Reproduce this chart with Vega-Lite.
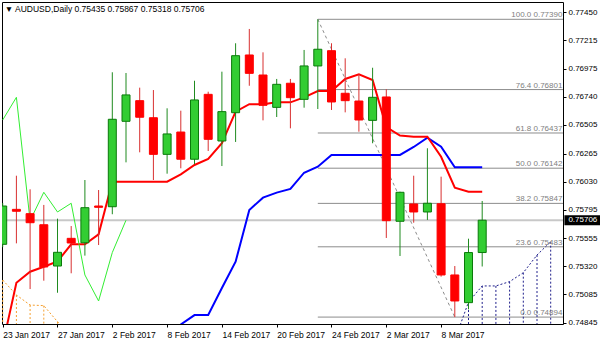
{
  "$schema": "https://vega.github.io/schema/vega-lite/v6.json",
  "width": 561,
  "height": 322,
  "autosize": {"type": "none"},
  "padding": {"left": 2, "top": 2, "right": 37, "bottom": 19},
  "background": "white",
  "config": {
    "view": {"stroke": "black", "strokeWidth": 1},
    "font": "Liberation Sans",
    "axisX": {"grid": false, "domain": false, "tickSize": 3, "tickColor": "black", "labelAlign": "left", "labelAngle": 0, "labelPadding": 3, "labelFontSize": 8.5, "labelFont": "Liberation Sans", "labelColor": "black", "labelOverlap": false, "labelFlush": false, "labelBound": false},
    "axisY": {"grid": false, "domain": false, "tickSize": 3, "tickColor": "black", "labelPadding": 2, "labelFontSize": 8, "labelFont": "Liberation Sans", "labelColor": "black", "labelOverlap": false, "labelFlush": false, "labelBound": false}
  },
  "datasets": {
    "candles": [
      {"d": "23 Jan 2017", "o": 0.75504, "h": 0.7585, "l": 0.7548, "c": 0.75825},
      {"d": "24 Jan 2017", "o": 0.75797, "h": 0.76079, "l": 0.75512, "c": 0.75781},
      {"d": "25 Jan 2017", "o": 0.75761, "h": 0.75965, "l": 0.75129, "c": 0.75685},
      {"d": "26 Jan 2017", "o": 0.75668, "h": 0.75834, "l": 0.75199, "c": 0.75314},
      {"d": "27 Jan 2017", "o": 0.75322, "h": 0.75719, "l": 0.75098, "c": 0.75437},
      {"d": "30 Jan 2017", "o": 0.75554, "h": 0.75657, "l": 0.75261, "c": 0.75515},
      {"d": "31 Jan 2017", "o": 0.75517, "h": 0.76043, "l": 0.75409, "c": 0.75811},
      {"d": "1 Feb 2017", "o": 0.75825, "h": 0.75959, "l": 0.75498, "c": 0.75814},
      {"d": "2 Feb 2017", "o": 0.75819, "h": 0.76946, "l": 0.75756, "c": 0.76552},
      {"d": "3 Feb 2017", "o": 0.76535, "h": 0.7694, "l": 0.76191, "c": 0.76756},
      {"d": "6 Feb 2017", "o": 0.76708, "h": 0.76817, "l": 0.76275, "c": 0.76569},
      {"d": "7 Feb 2017", "o": 0.76565, "h": 0.76797, "l": 0.76043, "c": 0.76258},
      {"d": "8 Feb 2017", "o": 0.76258, "h": 0.76644, "l": 0.76096, "c": 0.76429},
      {"d": "9 Feb 2017", "o": 0.76445, "h": 0.76624, "l": 0.76141, "c": 0.76217},
      {"d": "10 Feb 2017", "o": 0.76217, "h": 0.76875, "l": 0.76175, "c": 0.76714},
      {"d": "13 Feb 2017", "o": 0.76761, "h": 0.76783, "l": 0.76286, "c": 0.76384},
      {"d": "14 Feb 2017", "o": 0.7637, "h": 0.76951, "l": 0.7616, "c": 0.76616},
      {"d": "15 Feb 2017", "o": 0.76607, "h": 0.77189, "l": 0.76362, "c": 0.77085},
      {"d": "16 Feb 2017", "o": 0.77091, "h": 0.77309, "l": 0.76833, "c": 0.76937},
      {"d": "17 Feb 2017", "o": 0.76923, "h": 0.77113, "l": 0.76543, "c": 0.76669},
      {"d": "20 Feb 2017", "o": 0.76652, "h": 0.7689, "l": 0.76571, "c": 0.76845},
      {"d": "21 Feb 2017", "o": 0.76854, "h": 0.7689, "l": 0.76476, "c": 0.76733},
      {"d": "22 Feb 2017", "o": 0.76719, "h": 0.77133, "l": 0.76649, "c": 0.76999},
      {"d": "23 Feb 2017", "o": 0.76999, "h": 0.7739, "l": 0.76638, "c": 0.77139},
      {"d": "24 Feb 2017", "o": 0.77127, "h": 0.77189, "l": 0.7663, "c": 0.76697},
      {"d": "27 Feb 2017", "o": 0.7677, "h": 0.77063, "l": 0.7661, "c": 0.76708},
      {"d": "28 Feb 2017", "o": 0.76705, "h": 0.76929, "l": 0.76448, "c": 0.76546},
      {"d": "1 Mar 2017", "o": 0.76543, "h": 0.76984, "l": 0.76351, "c": 0.76736},
      {"d": "2 Mar 2017", "o": 0.76739, "h": 0.76803, "l": 0.75557, "c": 0.75702},
      {"d": "3 Mar 2017", "o": 0.75697, "h": 0.75945, "l": 0.75406, "c": 0.7594},
      {"d": "6 Mar 2017", "o": 0.75842, "h": 0.76079, "l": 0.75685, "c": 0.75775},
      {"d": "7 Mar 2017", "o": 0.75775, "h": 0.76309, "l": 0.75708, "c": 0.75848},
      {"d": "8 Mar 2017", "o": 0.75844, "h": 0.76071, "l": 0.75233, "c": 0.75247},
      {"d": "9 Mar 2017", "o": 0.75247, "h": 0.75322, "l": 0.74894, "c": 0.75029},
      {"d": "10 Mar 2017", "o": 0.75015, "h": 0.75551, "l": 0.74959, "c": 0.75435},
      {"d": "13 Mar 2017", "o": 0.75435, "h": 0.75867, "l": 0.75318, "c": 0.75706}
    ],
    "tenkan": [
      {"d": "23 Jan 2017", "v": 0.74661}, {"d": "24 Jan 2017", "v": 0.75182}, {"d": "25 Jan 2017", "v": 0.75274},
      {"d": "26 Jan 2017", "v": 0.75316}, {"d": "27 Jan 2017", "v": 0.7536}, {"d": "30 Jan 2017", "v": 0.75504},
      {"d": "31 Jan 2017", "v": 0.75504}, {"d": "1 Feb 2017", "v": 0.75588}, {"d": "2 Feb 2017", "v": 0.76029},
      {"d": "3 Feb 2017", "v": 0.76029}, {"d": "6 Feb 2017", "v": 0.76029}, {"d": "7 Feb 2017", "v": 0.76029},
      {"d": "8 Feb 2017", "v": 0.76029}, {"d": "9 Feb 2017", "v": 0.76091}, {"d": "10 Feb 2017", "v": 0.76169},
      {"d": "13 Feb 2017", "v": 0.76219}, {"d": "14 Feb 2017", "v": 0.76351}, {"d": "15 Feb 2017", "v": 0.76616},
      {"d": "16 Feb 2017", "v": 0.76678}, {"d": "17 Feb 2017", "v": 0.76678}, {"d": "20 Feb 2017", "v": 0.76694},
      {"d": "21 Feb 2017", "v": 0.76694}, {"d": "22 Feb 2017", "v": 0.76735}, {"d": "23 Feb 2017", "v": 0.76789},
      {"d": "24 Feb 2017", "v": 0.76789}, {"d": "27 Feb 2017", "v": 0.7689}, {"d": "28 Feb 2017", "v": 0.76929},
      {"d": "1 Mar 2017", "v": 0.76881}, {"d": "2 Mar 2017", "v": 0.76487}, {"d": "3 Mar 2017", "v": 0.76415},
      {"d": "6 Mar 2017", "v": 0.76406}, {"d": "7 Mar 2017", "v": 0.76406}, {"d": "8 Mar 2017", "v": 0.76238},
      {"d": "9 Mar 2017", "v": 0.75978}, {"d": "10 Mar 2017", "v": 0.75945}, {"d": "13 Mar 2017", "v": 0.75945}
    ],
    "kijun": [
      {"d": "8 Feb 2017", "v": 0.747}, {"d": "9 Feb 2017", "v": 0.74832}, {"d": "10 Feb 2017", "v": 0.74911},
      {"d": "13 Feb 2017", "v": 0.74911}, {"d": "14 Feb 2017", "v": 0.75138}, {"d": "15 Feb 2017", "v": 0.75358},
      {"d": "16 Feb 2017", "v": 0.75792}, {"d": "17 Feb 2017", "v": 0.75895}, {"d": "20 Feb 2017", "v": 0.75937},
      {"d": "21 Feb 2017", "v": 0.75968}, {"d": "22 Feb 2017", "v": 0.76104}, {"d": "23 Feb 2017", "v": 0.76155},
      {"d": "24 Feb 2017", "v": 0.76253}, {"d": "27 Feb 2017", "v": 0.76253}, {"d": "28 Feb 2017", "v": 0.76253},
      {"d": "1 Mar 2017", "v": 0.76253}, {"d": "2 Mar 2017", "v": 0.76253}, {"d": "3 Mar 2017", "v": 0.76253},
      {"d": "6 Mar 2017", "v": 0.7632}, {"d": "7 Mar 2017", "v": 0.76398}, {"d": "8 Mar 2017", "v": 0.76322},
      {"d": "9 Mar 2017", "v": 0.7615}, {"d": "10 Mar 2017", "v": 0.7615}, {"d": "13 Mar 2017", "v": 0.7615}
    ],
    "chikou": [
      {"d": "23 Jan 2017", "v": 0.76546}, {"d": "24 Jan 2017", "v": 0.76736}, {"d": "25 Jan 2017", "v": 0.75702},
      {"d": "26 Jan 2017", "v": 0.7594}, {"d": "27 Jan 2017", "v": 0.75775}, {"d": "30 Jan 2017", "v": 0.75848},
      {"d": "31 Jan 2017", "v": 0.75247}, {"d": "1 Feb 2017", "v": 0.75029}, {"d": "2 Feb 2017", "v": 0.75435},
      {"d": "3 Feb 2017", "v": 0.75706}
    ],
    "spanOrange": [
      {"d": "23 Jan 2017", "v": 0.75205}, {"d": "24 Jan 2017", "v": 0.75079}, {"d": "25 Jan 2017", "v": 0.74995},
      {"d": "26 Jan 2017", "v": 0.7499}, {"d": "27 Jan 2017", "v": 0.74855}, {"d": "30 Jan 2017", "v": 0.7475}
    ],
    "spanNavy": [
      {"d": "9 Mar 2017", "v": 0.74702}, {"d": "10 Mar 2017", "v": 0.7502}, {"d": "13 Mar 2017", "v": 0.75155},
      {"d": "14 Mar 2017", "v": 0.75155}, {"d": "15 Mar 2017", "v": 0.75191}, {"d": "16 Mar 2017", "v": 0.75266},
      {"d": "17 Mar 2017", "v": 0.75414}, {"d": "20 Mar 2017", "v": 0.75526}
    ],
    "fib": [
      {"d": "23 Feb 2017", "d2": "21 Mar 2017", "v": 0.7739, "t": "100.0 0.77390"},
      {"d": "23 Feb 2017", "d2": "21 Mar 2017", "v": 0.76801, "t": "76.4 0.76801"},
      {"d": "23 Feb 2017", "d2": "21 Mar 2017", "v": 0.76437, "t": "61.8 0.76437"},
      {"d": "23 Feb 2017", "d2": "21 Mar 2017", "v": 0.76142, "t": "50.0 0.76142"},
      {"d": "23 Feb 2017", "d2": "21 Mar 2017", "v": 0.75847, "t": "38.2 0.75847"},
      {"d": "23 Feb 2017", "d2": "21 Mar 2017", "v": 0.75483, "t": "23.6 0.75483"},
      {"d": "23 Feb 2017", "d2": "21 Mar 2017", "v": 0.74894, "t": "0.0 0.74894"}
    ],
    "fibTrend": [
      {"d": "23 Feb 2017", "v": 0.7739}, {"d": "9 Mar 2017", "v": 0.74894}
    ],
    "price": [{"d": "21 Mar 2017", "v": 0.75706, "t": "0.75706"}],
    "head": [{"d": "23 Jan 2017", "v": 0.77535, "t": "▼ AUDUSD,Daily  0.75435 0.75867 0.75318 0.75706"}]
  },
  "layer": [
    {
      "data": {"name": "price"},
      "mark": {"type": "rule", "color": "#c8c8c8", "strokeWidth": 2},
      "encoding": {
        "y": {"field": "v", "type": "quantitative", "scale": {"domain": [0.74836, 0.77535], "nice": false, "zero": false}, "axis": {"orient": "right", "values": [0.7745, 0.77215, 0.76975, 0.7674, 0.76505, 0.76265, 0.7603, 0.75795, 0.75555, 0.7532, 0.75085, 0.74845], "format": ".5f", "title": null}}
      }
    },
    {
      "data": {"name": "fib"},
      "mark": {"type": "rule", "color": "#8c8c8c", "strokeWidth": 1, "clip": true},
      "encoding": {
        "x": {"field": "d", "type": "ordinal", "sort": null, "scale": {"type": "point", "padding": 0, "range": [0.7, 562.4], "domain": ["23 Jan 2017","24 Jan 2017","25 Jan 2017","26 Jan 2017","27 Jan 2017","30 Jan 2017","31 Jan 2017","1 Feb 2017","2 Feb 2017","3 Feb 2017","6 Feb 2017","7 Feb 2017","8 Feb 2017","9 Feb 2017","10 Feb 2017","13 Feb 2017","14 Feb 2017","15 Feb 2017","16 Feb 2017","17 Feb 2017","20 Feb 2017","21 Feb 2017","22 Feb 2017","23 Feb 2017","24 Feb 2017","27 Feb 2017","28 Feb 2017","1 Mar 2017","2 Mar 2017","3 Mar 2017","6 Mar 2017","7 Mar 2017","8 Mar 2017","9 Mar 2017","10 Mar 2017","13 Mar 2017","14 Mar 2017","15 Mar 2017","16 Mar 2017","17 Mar 2017","20 Mar 2017","21 Mar 2017"]}, "axis": {"orient": "bottom", "values": ["23 Jan 2017","27 Jan 2017","2 Feb 2017","8 Feb 2017","14 Feb 2017","20 Feb 2017","24 Feb 2017","2 Mar 2017","8 Mar 2017"], "title": null}},
        "x2": {"field": "d2"},
        "y": {"field": "v", "type": "quantitative", "scale": {"domain": [0.74836, 0.77535], "nice": false, "zero": false}, "axis": {"orient": "right", "values": [0.7745, 0.77215, 0.76975, 0.7674, 0.76505, 0.76265, 0.7603, 0.75795, 0.75555, 0.7532, 0.75085, 0.74845], "format": ".5f", "title": null}}
      }
    },
    {
      "data": {"name": "fibTrend"},
      "mark": {"type": "line", "color": "#8c8c8c", "strokeWidth": 1, "strokeDash": [3, 3], "clip": true},
      "encoding": {
        "x": {"field": "d", "type": "ordinal", "sort": null, "scale": {"type": "point", "padding": 0, "range": [0.7, 562.4], "domain": ["23 Jan 2017","24 Jan 2017","25 Jan 2017","26 Jan 2017","27 Jan 2017","30 Jan 2017","31 Jan 2017","1 Feb 2017","2 Feb 2017","3 Feb 2017","6 Feb 2017","7 Feb 2017","8 Feb 2017","9 Feb 2017","10 Feb 2017","13 Feb 2017","14 Feb 2017","15 Feb 2017","16 Feb 2017","17 Feb 2017","20 Feb 2017","21 Feb 2017","22 Feb 2017","23 Feb 2017","24 Feb 2017","27 Feb 2017","28 Feb 2017","1 Mar 2017","2 Mar 2017","3 Mar 2017","6 Mar 2017","7 Mar 2017","8 Mar 2017","9 Mar 2017","10 Mar 2017","13 Mar 2017","14 Mar 2017","15 Mar 2017","16 Mar 2017","17 Mar 2017","20 Mar 2017","21 Mar 2017"]}, "axis": {"orient": "bottom", "values": ["23 Jan 2017","27 Jan 2017","2 Feb 2017","8 Feb 2017","14 Feb 2017","20 Feb 2017","24 Feb 2017","2 Mar 2017","8 Mar 2017"], "title": null}},
        "y": {"field": "v", "type": "quantitative", "scale": {"domain": [0.74836, 0.77535], "nice": false, "zero": false}, "axis": {"orient": "right", "values": [0.7745, 0.77215, 0.76975, 0.7674, 0.76505, 0.76265, 0.7603, 0.75795, 0.75555, 0.7532, 0.75085, 0.74845], "format": ".5f", "title": null}}
      }
    },
    {
      "data": {"name": "spanOrange"},
      "mark": {"type": "rule", "color": "#f5a030", "strokeWidth": 1, "strokeDash": [2, 2], "clip": true},
      "encoding": {
        "x": {"field": "d", "type": "ordinal", "sort": null, "scale": {"type": "point", "padding": 0, "range": [0.7, 562.4], "domain": ["23 Jan 2017","24 Jan 2017","25 Jan 2017","26 Jan 2017","27 Jan 2017","30 Jan 2017","31 Jan 2017","1 Feb 2017","2 Feb 2017","3 Feb 2017","6 Feb 2017","7 Feb 2017","8 Feb 2017","9 Feb 2017","10 Feb 2017","13 Feb 2017","14 Feb 2017","15 Feb 2017","16 Feb 2017","17 Feb 2017","20 Feb 2017","21 Feb 2017","22 Feb 2017","23 Feb 2017","24 Feb 2017","27 Feb 2017","28 Feb 2017","1 Mar 2017","2 Mar 2017","3 Mar 2017","6 Mar 2017","7 Mar 2017","8 Mar 2017","9 Mar 2017","10 Mar 2017","13 Mar 2017","14 Mar 2017","15 Mar 2017","16 Mar 2017","17 Mar 2017","20 Mar 2017","21 Mar 2017"]}, "axis": {"orient": "bottom", "values": ["23 Jan 2017","27 Jan 2017","2 Feb 2017","8 Feb 2017","14 Feb 2017","20 Feb 2017","24 Feb 2017","2 Mar 2017","8 Mar 2017"], "title": null}},
        "y": {"field": "v", "type": "quantitative", "scale": {"domain": [0.74836, 0.77535], "nice": false, "zero": false}, "axis": {"orient": "right", "values": [0.7745, 0.77215, 0.76975, 0.7674, 0.76505, 0.76265, 0.7603, 0.75795, 0.75555, 0.7532, 0.75085, 0.74845], "format": ".5f", "title": null}},
        "y2": {"datum": 0.747}
      }
    },
    {
      "data": {"name": "spanOrange"},
      "mark": {"type": "line", "color": "#f5a030", "strokeWidth": 1, "strokeDash": [2, 2], "clip": true},
      "encoding": {
        "x": {"field": "d", "type": "ordinal", "sort": null, "scale": {"type": "point", "padding": 0, "range": [0.7, 562.4], "domain": ["23 Jan 2017","24 Jan 2017","25 Jan 2017","26 Jan 2017","27 Jan 2017","30 Jan 2017","31 Jan 2017","1 Feb 2017","2 Feb 2017","3 Feb 2017","6 Feb 2017","7 Feb 2017","8 Feb 2017","9 Feb 2017","10 Feb 2017","13 Feb 2017","14 Feb 2017","15 Feb 2017","16 Feb 2017","17 Feb 2017","20 Feb 2017","21 Feb 2017","22 Feb 2017","23 Feb 2017","24 Feb 2017","27 Feb 2017","28 Feb 2017","1 Mar 2017","2 Mar 2017","3 Mar 2017","6 Mar 2017","7 Mar 2017","8 Mar 2017","9 Mar 2017","10 Mar 2017","13 Mar 2017","14 Mar 2017","15 Mar 2017","16 Mar 2017","17 Mar 2017","20 Mar 2017","21 Mar 2017"]}, "axis": {"orient": "bottom", "values": ["23 Jan 2017","27 Jan 2017","2 Feb 2017","8 Feb 2017","14 Feb 2017","20 Feb 2017","24 Feb 2017","2 Mar 2017","8 Mar 2017"], "title": null}},
        "y": {"field": "v", "type": "quantitative", "scale": {"domain": [0.74836, 0.77535], "nice": false, "zero": false}, "axis": {"orient": "right", "values": [0.7745, 0.77215, 0.76975, 0.7674, 0.76505, 0.76265, 0.7603, 0.75795, 0.75555, 0.7532, 0.75085, 0.74845], "format": ".5f", "title": null}}
      }
    },
    {
      "data": {"name": "spanNavy"},
      "mark": {"type": "rule", "color": "#20208c", "strokeWidth": 1, "strokeDash": [2, 2], "clip": true},
      "encoding": {
        "x": {"field": "d", "type": "ordinal", "sort": null, "scale": {"type": "point", "padding": 0, "range": [0.7, 562.4], "domain": ["23 Jan 2017","24 Jan 2017","25 Jan 2017","26 Jan 2017","27 Jan 2017","30 Jan 2017","31 Jan 2017","1 Feb 2017","2 Feb 2017","3 Feb 2017","6 Feb 2017","7 Feb 2017","8 Feb 2017","9 Feb 2017","10 Feb 2017","13 Feb 2017","14 Feb 2017","15 Feb 2017","16 Feb 2017","17 Feb 2017","20 Feb 2017","21 Feb 2017","22 Feb 2017","23 Feb 2017","24 Feb 2017","27 Feb 2017","28 Feb 2017","1 Mar 2017","2 Mar 2017","3 Mar 2017","6 Mar 2017","7 Mar 2017","8 Mar 2017","9 Mar 2017","10 Mar 2017","13 Mar 2017","14 Mar 2017","15 Mar 2017","16 Mar 2017","17 Mar 2017","20 Mar 2017","21 Mar 2017"]}, "axis": {"orient": "bottom", "values": ["23 Jan 2017","27 Jan 2017","2 Feb 2017","8 Feb 2017","14 Feb 2017","20 Feb 2017","24 Feb 2017","2 Mar 2017","8 Mar 2017"], "title": null}},
        "y": {"field": "v", "type": "quantitative", "scale": {"domain": [0.74836, 0.77535], "nice": false, "zero": false}, "axis": {"orient": "right", "values": [0.7745, 0.77215, 0.76975, 0.7674, 0.76505, 0.76265, 0.7603, 0.75795, 0.75555, 0.7532, 0.75085, 0.74845], "format": ".5f", "title": null}},
        "y2": {"datum": 0.747}
      }
    },
    {
      "data": {"name": "spanNavy"},
      "mark": {"type": "line", "color": "#20208c", "strokeWidth": 1, "strokeDash": [2, 2], "clip": true},
      "encoding": {
        "x": {"field": "d", "type": "ordinal", "sort": null, "scale": {"type": "point", "padding": 0, "range": [0.7, 562.4], "domain": ["23 Jan 2017","24 Jan 2017","25 Jan 2017","26 Jan 2017","27 Jan 2017","30 Jan 2017","31 Jan 2017","1 Feb 2017","2 Feb 2017","3 Feb 2017","6 Feb 2017","7 Feb 2017","8 Feb 2017","9 Feb 2017","10 Feb 2017","13 Feb 2017","14 Feb 2017","15 Feb 2017","16 Feb 2017","17 Feb 2017","20 Feb 2017","21 Feb 2017","22 Feb 2017","23 Feb 2017","24 Feb 2017","27 Feb 2017","28 Feb 2017","1 Mar 2017","2 Mar 2017","3 Mar 2017","6 Mar 2017","7 Mar 2017","8 Mar 2017","9 Mar 2017","10 Mar 2017","13 Mar 2017","14 Mar 2017","15 Mar 2017","16 Mar 2017","17 Mar 2017","20 Mar 2017","21 Mar 2017"]}, "axis": {"orient": "bottom", "values": ["23 Jan 2017","27 Jan 2017","2 Feb 2017","8 Feb 2017","14 Feb 2017","20 Feb 2017","24 Feb 2017","2 Mar 2017","8 Mar 2017"], "title": null}},
        "y": {"field": "v", "type": "quantitative", "scale": {"domain": [0.74836, 0.77535], "nice": false, "zero": false}, "axis": {"orient": "right", "values": [0.7745, 0.77215, 0.76975, 0.7674, 0.76505, 0.76265, 0.7603, 0.75795, 0.75555, 0.7532, 0.75085, 0.74845], "format": ".5f", "title": null}}
      }
    },
    {
      "data": {"name": "kijun"},
      "mark": {"type": "line", "color": "#0000ff", "strokeWidth": 2, "clip": true},
      "encoding": {
        "x": {"field": "d", "type": "ordinal", "sort": null, "scale": {"type": "point", "padding": 0, "range": [0.7, 562.4], "domain": ["23 Jan 2017","24 Jan 2017","25 Jan 2017","26 Jan 2017","27 Jan 2017","30 Jan 2017","31 Jan 2017","1 Feb 2017","2 Feb 2017","3 Feb 2017","6 Feb 2017","7 Feb 2017","8 Feb 2017","9 Feb 2017","10 Feb 2017","13 Feb 2017","14 Feb 2017","15 Feb 2017","16 Feb 2017","17 Feb 2017","20 Feb 2017","21 Feb 2017","22 Feb 2017","23 Feb 2017","24 Feb 2017","27 Feb 2017","28 Feb 2017","1 Mar 2017","2 Mar 2017","3 Mar 2017","6 Mar 2017","7 Mar 2017","8 Mar 2017","9 Mar 2017","10 Mar 2017","13 Mar 2017","14 Mar 2017","15 Mar 2017","16 Mar 2017","17 Mar 2017","20 Mar 2017","21 Mar 2017"]}, "axis": {"orient": "bottom", "values": ["23 Jan 2017","27 Jan 2017","2 Feb 2017","8 Feb 2017","14 Feb 2017","20 Feb 2017","24 Feb 2017","2 Mar 2017","8 Mar 2017"], "title": null}},
        "y": {"field": "v", "type": "quantitative", "scale": {"domain": [0.74836, 0.77535], "nice": false, "zero": false}, "axis": {"orient": "right", "values": [0.7745, 0.77215, 0.76975, 0.7674, 0.76505, 0.76265, 0.7603, 0.75795, 0.75555, 0.7532, 0.75085, 0.74845], "format": ".5f", "title": null}}
      }
    },
    {
      "data": {"name": "tenkan"},
      "mark": {"type": "line", "color": "#ff0000", "strokeWidth": 2, "clip": true},
      "encoding": {
        "x": {"field": "d", "type": "ordinal", "sort": null, "scale": {"type": "point", "padding": 0, "range": [0.7, 562.4], "domain": ["23 Jan 2017","24 Jan 2017","25 Jan 2017","26 Jan 2017","27 Jan 2017","30 Jan 2017","31 Jan 2017","1 Feb 2017","2 Feb 2017","3 Feb 2017","6 Feb 2017","7 Feb 2017","8 Feb 2017","9 Feb 2017","10 Feb 2017","13 Feb 2017","14 Feb 2017","15 Feb 2017","16 Feb 2017","17 Feb 2017","20 Feb 2017","21 Feb 2017","22 Feb 2017","23 Feb 2017","24 Feb 2017","27 Feb 2017","28 Feb 2017","1 Mar 2017","2 Mar 2017","3 Mar 2017","6 Mar 2017","7 Mar 2017","8 Mar 2017","9 Mar 2017","10 Mar 2017","13 Mar 2017","14 Mar 2017","15 Mar 2017","16 Mar 2017","17 Mar 2017","20 Mar 2017","21 Mar 2017"]}, "axis": {"orient": "bottom", "values": ["23 Jan 2017","27 Jan 2017","2 Feb 2017","8 Feb 2017","14 Feb 2017","20 Feb 2017","24 Feb 2017","2 Mar 2017","8 Mar 2017"], "title": null}},
        "y": {"field": "v", "type": "quantitative", "scale": {"domain": [0.74836, 0.77535], "nice": false, "zero": false}, "axis": {"orient": "right", "values": [0.7745, 0.77215, 0.76975, 0.7674, 0.76505, 0.76265, 0.7603, 0.75795, 0.75555, 0.7532, 0.75085, 0.74845], "format": ".5f", "title": null}}
      }
    },
    {
      "data": {"name": "chikou"},
      "mark": {"type": "line", "color": "#33ee33", "strokeWidth": 1, "clip": true},
      "encoding": {
        "x": {"field": "d", "type": "ordinal", "sort": null, "scale": {"type": "point", "padding": 0, "range": [0.7, 562.4], "domain": ["23 Jan 2017","24 Jan 2017","25 Jan 2017","26 Jan 2017","27 Jan 2017","30 Jan 2017","31 Jan 2017","1 Feb 2017","2 Feb 2017","3 Feb 2017","6 Feb 2017","7 Feb 2017","8 Feb 2017","9 Feb 2017","10 Feb 2017","13 Feb 2017","14 Feb 2017","15 Feb 2017","16 Feb 2017","17 Feb 2017","20 Feb 2017","21 Feb 2017","22 Feb 2017","23 Feb 2017","24 Feb 2017","27 Feb 2017","28 Feb 2017","1 Mar 2017","2 Mar 2017","3 Mar 2017","6 Mar 2017","7 Mar 2017","8 Mar 2017","9 Mar 2017","10 Mar 2017","13 Mar 2017","14 Mar 2017","15 Mar 2017","16 Mar 2017","17 Mar 2017","20 Mar 2017","21 Mar 2017"]}, "axis": {"orient": "bottom", "values": ["23 Jan 2017","27 Jan 2017","2 Feb 2017","8 Feb 2017","14 Feb 2017","20 Feb 2017","24 Feb 2017","2 Mar 2017","8 Mar 2017"], "title": null}},
        "y": {"field": "v", "type": "quantitative", "scale": {"domain": [0.74836, 0.77535], "nice": false, "zero": false}, "axis": {"orient": "right", "values": [0.7745, 0.77215, 0.76975, 0.7674, 0.76505, 0.76265, 0.7603, 0.75795, 0.75555, 0.7532, 0.75085, 0.74845], "format": ".5f", "title": null}}
      }
    },
    {
      "data": {"name": "candles"},
      "mark": {"type": "rule", "strokeWidth": 1, "clip": true},
      "encoding": {
        "x": {"field": "d", "type": "ordinal", "sort": null, "scale": {"type": "point", "padding": 0, "range": [0.7, 562.4], "domain": ["23 Jan 2017","24 Jan 2017","25 Jan 2017","26 Jan 2017","27 Jan 2017","30 Jan 2017","31 Jan 2017","1 Feb 2017","2 Feb 2017","3 Feb 2017","6 Feb 2017","7 Feb 2017","8 Feb 2017","9 Feb 2017","10 Feb 2017","13 Feb 2017","14 Feb 2017","15 Feb 2017","16 Feb 2017","17 Feb 2017","20 Feb 2017","21 Feb 2017","22 Feb 2017","23 Feb 2017","24 Feb 2017","27 Feb 2017","28 Feb 2017","1 Mar 2017","2 Mar 2017","3 Mar 2017","6 Mar 2017","7 Mar 2017","8 Mar 2017","9 Mar 2017","10 Mar 2017","13 Mar 2017","14 Mar 2017","15 Mar 2017","16 Mar 2017","17 Mar 2017","20 Mar 2017","21 Mar 2017"]}, "axis": {"orient": "bottom", "values": ["23 Jan 2017","27 Jan 2017","2 Feb 2017","8 Feb 2017","14 Feb 2017","20 Feb 2017","24 Feb 2017","2 Mar 2017","8 Mar 2017"], "title": null}},
        "y": {"field": "l", "type": "quantitative", "scale": {"domain": [0.74836, 0.77535], "nice": false, "zero": false}, "axis": {"orient": "right", "values": [0.7745, 0.77215, 0.76975, 0.7674, 0.76505, 0.76265, 0.7603, 0.75795, 0.75555, 0.7532, 0.75085, 0.74845], "format": ".5f", "title": null}},
        "y2": {"field": "h"},
        "color": {"condition": {"test": "datum.c >= datum.o", "value": "#1f8a1f"}, "value": "#d83030"}
      }
    },
    {
      "data": {"name": "candles"},
      "mark": {"type": "bar", "width": 8, "strokeWidth": 1, "clip": true},
      "encoding": {
        "x": {"field": "d", "type": "ordinal", "sort": null, "scale": {"type": "point", "padding": 0, "range": [0.7, 562.4], "domain": ["23 Jan 2017","24 Jan 2017","25 Jan 2017","26 Jan 2017","27 Jan 2017","30 Jan 2017","31 Jan 2017","1 Feb 2017","2 Feb 2017","3 Feb 2017","6 Feb 2017","7 Feb 2017","8 Feb 2017","9 Feb 2017","10 Feb 2017","13 Feb 2017","14 Feb 2017","15 Feb 2017","16 Feb 2017","17 Feb 2017","20 Feb 2017","21 Feb 2017","22 Feb 2017","23 Feb 2017","24 Feb 2017","27 Feb 2017","28 Feb 2017","1 Mar 2017","2 Mar 2017","3 Mar 2017","6 Mar 2017","7 Mar 2017","8 Mar 2017","9 Mar 2017","10 Mar 2017","13 Mar 2017","14 Mar 2017","15 Mar 2017","16 Mar 2017","17 Mar 2017","20 Mar 2017","21 Mar 2017"]}, "axis": {"orient": "bottom", "values": ["23 Jan 2017","27 Jan 2017","2 Feb 2017","8 Feb 2017","14 Feb 2017","20 Feb 2017","24 Feb 2017","2 Mar 2017","8 Mar 2017"], "title": null}},
        "y": {"field": "o", "type": "quantitative", "scale": {"domain": [0.74836, 0.77535], "nice": false, "zero": false}, "axis": {"orient": "right", "values": [0.7745, 0.77215, 0.76975, 0.7674, 0.76505, 0.76265, 0.7603, 0.75795, 0.75555, 0.7532, 0.75085, 0.74845], "format": ".5f", "title": null}},
        "y2": {"field": "c"},
        "fill": {"condition": {"test": "datum.c >= datum.o", "value": "#32cd32"}, "value": "#ff0000"},
        "stroke": {"condition": {"test": "datum.c >= datum.o", "value": "#0a7a0a"}, "value": "#ff0000"}
      }
    },
    {
      "data": {"name": "fib"},
      "mark": {"type": "text", "align": "right", "baseline": "alphabetic", "dx": -2, "dy": -2, "fontSize": 8, "font": "Liberation Sans", "color": "#808080", "clip": false},
      "encoding": {
        "x": {"field": "d2", "type": "ordinal", "sort": null, "scale": {"type": "point", "padding": 0, "range": [0.7, 562.4], "domain": ["23 Jan 2017","24 Jan 2017","25 Jan 2017","26 Jan 2017","27 Jan 2017","30 Jan 2017","31 Jan 2017","1 Feb 2017","2 Feb 2017","3 Feb 2017","6 Feb 2017","7 Feb 2017","8 Feb 2017","9 Feb 2017","10 Feb 2017","13 Feb 2017","14 Feb 2017","15 Feb 2017","16 Feb 2017","17 Feb 2017","20 Feb 2017","21 Feb 2017","22 Feb 2017","23 Feb 2017","24 Feb 2017","27 Feb 2017","28 Feb 2017","1 Mar 2017","2 Mar 2017","3 Mar 2017","6 Mar 2017","7 Mar 2017","8 Mar 2017","9 Mar 2017","10 Mar 2017","13 Mar 2017","14 Mar 2017","15 Mar 2017","16 Mar 2017","17 Mar 2017","20 Mar 2017","21 Mar 2017"]}, "axis": {"orient": "bottom", "values": ["23 Jan 2017","27 Jan 2017","2 Feb 2017","8 Feb 2017","14 Feb 2017","20 Feb 2017","24 Feb 2017","2 Mar 2017","8 Mar 2017"], "title": null}},
        "y": {"field": "v", "type": "quantitative", "scale": {"domain": [0.74836, 0.77535], "nice": false, "zero": false}, "axis": {"orient": "right", "values": [0.7745, 0.77215, 0.76975, 0.7674, 0.76505, 0.76265, 0.7603, 0.75795, 0.75555, 0.7532, 0.75085, 0.74845], "format": ".5f", "title": null}},
        "text": {"field": "t"}
      }
    },
    {
      "data": {"name": "price"},
      "mark": {"type": "rect", "color": "black", "clip": false, "x2Offset": 36, "yOffset": -5, "y2Offset": 5},
      "encoding": {
        "x": {"field": "d", "type": "ordinal", "sort": null, "scale": {"type": "point", "padding": 0, "range": [0.7, 562.4], "domain": ["23 Jan 2017","24 Jan 2017","25 Jan 2017","26 Jan 2017","27 Jan 2017","30 Jan 2017","31 Jan 2017","1 Feb 2017","2 Feb 2017","3 Feb 2017","6 Feb 2017","7 Feb 2017","8 Feb 2017","9 Feb 2017","10 Feb 2017","13 Feb 2017","14 Feb 2017","15 Feb 2017","16 Feb 2017","17 Feb 2017","20 Feb 2017","21 Feb 2017","22 Feb 2017","23 Feb 2017","24 Feb 2017","27 Feb 2017","28 Feb 2017","1 Mar 2017","2 Mar 2017","3 Mar 2017","6 Mar 2017","7 Mar 2017","8 Mar 2017","9 Mar 2017","10 Mar 2017","13 Mar 2017","14 Mar 2017","15 Mar 2017","16 Mar 2017","17 Mar 2017","20 Mar 2017","21 Mar 2017"]}, "axis": {"orient": "bottom", "values": ["23 Jan 2017","27 Jan 2017","2 Feb 2017","8 Feb 2017","14 Feb 2017","20 Feb 2017","24 Feb 2017","2 Mar 2017","8 Mar 2017"], "title": null}},
        "x2": {"field": "d"},
        "y": {"field": "v", "type": "quantitative", "scale": {"domain": [0.74836, 0.77535], "nice": false, "zero": false}, "axis": {"orient": "right", "values": [0.7745, 0.77215, 0.76975, 0.7674, 0.76505, 0.76265, 0.7603, 0.75795, 0.75555, 0.7532, 0.75085, 0.74845], "format": ".5f", "title": null}},
        "y2": {"field": "v"}
      }
    },
    {
      "data": {"name": "price"},
      "mark": {"type": "text", "align": "left", "baseline": "middle", "dx": 4, "fontSize": 8, "font": "Liberation Sans", "color": "white", "clip": false},
      "encoding": {
        "x": {"field": "d", "type": "ordinal", "sort": null, "scale": {"type": "point", "padding": 0, "range": [0.7, 562.4], "domain": ["23 Jan 2017","24 Jan 2017","25 Jan 2017","26 Jan 2017","27 Jan 2017","30 Jan 2017","31 Jan 2017","1 Feb 2017","2 Feb 2017","3 Feb 2017","6 Feb 2017","7 Feb 2017","8 Feb 2017","9 Feb 2017","10 Feb 2017","13 Feb 2017","14 Feb 2017","15 Feb 2017","16 Feb 2017","17 Feb 2017","20 Feb 2017","21 Feb 2017","22 Feb 2017","23 Feb 2017","24 Feb 2017","27 Feb 2017","28 Feb 2017","1 Mar 2017","2 Mar 2017","3 Mar 2017","6 Mar 2017","7 Mar 2017","8 Mar 2017","9 Mar 2017","10 Mar 2017","13 Mar 2017","14 Mar 2017","15 Mar 2017","16 Mar 2017","17 Mar 2017","20 Mar 2017","21 Mar 2017"]}, "axis": {"orient": "bottom", "values": ["23 Jan 2017","27 Jan 2017","2 Feb 2017","8 Feb 2017","14 Feb 2017","20 Feb 2017","24 Feb 2017","2 Mar 2017","8 Mar 2017"], "title": null}},
        "y": {"field": "v", "type": "quantitative", "scale": {"domain": [0.74836, 0.77535], "nice": false, "zero": false}, "axis": {"orient": "right", "values": [0.7745, 0.77215, 0.76975, 0.7674, 0.76505, 0.76265, 0.7603, 0.75795, 0.75555, 0.7532, 0.75085, 0.74845], "format": ".5f", "title": null}},
        "text": {"field": "t"}
      }
    },
    {
      "data": {"name": "head"},
      "mark": {"type": "text", "align": "left", "baseline": "alphabetic", "dx": 2, "dy": 10, "fontSize": 8.5, "font": "Liberation Sans", "color": "black", "clip": false},
      "encoding": {
        "x": {"field": "d", "type": "ordinal", "sort": null, "scale": {"type": "point", "padding": 0, "range": [0.7, 562.4], "domain": ["23 Jan 2017","24 Jan 2017","25 Jan 2017","26 Jan 2017","27 Jan 2017","30 Jan 2017","31 Jan 2017","1 Feb 2017","2 Feb 2017","3 Feb 2017","6 Feb 2017","7 Feb 2017","8 Feb 2017","9 Feb 2017","10 Feb 2017","13 Feb 2017","14 Feb 2017","15 Feb 2017","16 Feb 2017","17 Feb 2017","20 Feb 2017","21 Feb 2017","22 Feb 2017","23 Feb 2017","24 Feb 2017","27 Feb 2017","28 Feb 2017","1 Mar 2017","2 Mar 2017","3 Mar 2017","6 Mar 2017","7 Mar 2017","8 Mar 2017","9 Mar 2017","10 Mar 2017","13 Mar 2017","14 Mar 2017","15 Mar 2017","16 Mar 2017","17 Mar 2017","20 Mar 2017","21 Mar 2017"]}, "axis": {"orient": "bottom", "values": ["23 Jan 2017","27 Jan 2017","2 Feb 2017","8 Feb 2017","14 Feb 2017","20 Feb 2017","24 Feb 2017","2 Mar 2017","8 Mar 2017"], "title": null}},
        "y": {"field": "v", "type": "quantitative", "scale": {"domain": [0.74836, 0.77535], "nice": false, "zero": false}, "axis": {"orient": "right", "values": [0.7745, 0.77215, 0.76975, 0.7674, 0.76505, 0.76265, 0.7603, 0.75795, 0.75555, 0.7532, 0.75085, 0.74845], "format": ".5f", "title": null}},
        "text": {"field": "t"}
      }
    }
  ]
}
